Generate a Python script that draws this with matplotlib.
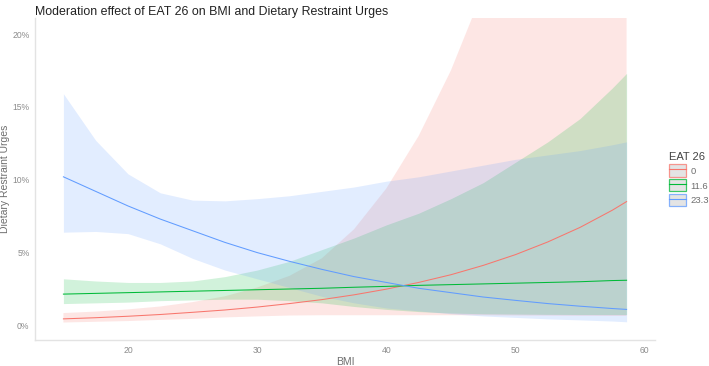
import matplotlib
matplotlib.use("Agg")
import matplotlib.pyplot as plt
from matplotlib.patches import Patch
from matplotlib.lines import Line2D
from matplotlib.ticker import FuncFormatter

plt.rcParams['font.family'] = ['Liberation Sans', 'DejaVu Sans']

# --- data (values in %) ---
bmi = [15, 17.5, 20, 22.5, 25, 27.5, 30, 32.5, 35, 37.5, 40, 42.5, 45, 47.5, 50, 52.5, 55, 57.5, 58.6]

# EAT 26 = 0
red_fit = [0.45, 0.53, 0.63, 0.75, 0.90, 1.06, 1.26, 1.50, 1.77, 2.10, 2.49, 2.95, 3.48, 4.12, 4.86, 5.73, 6.73, 7.91, 8.5]
red_lo = [0.2, 0.25, 0.3, 0.38, 0.45, 0.55, 0.62, 0.68, 0.7, 0.7, 0.7, 0.7, 0.7, 0.7, 0.68, 0.67, 0.66, 0.65, 0.65]
red_hi = [0.85, 0.95, 1.1, 1.3, 1.6, 2.0, 2.6, 3.4, 4.6, 6.6, 9.4, 13.0, 17.5, 23.0, 29.0, 35.0, 41.0, 47.0, 50.0]

# EAT 26 = 11.6
green_fit = [2.15, 2.2, 2.25, 2.3, 2.35, 2.4, 2.45, 2.5, 2.55, 2.62, 2.68, 2.75, 2.8, 2.85, 2.9, 2.95, 3.0, 3.08, 3.1]
green_lo = [1.5, 1.55, 1.6, 1.7, 1.75, 1.8, 1.8, 1.7, 1.55, 1.3, 1.1, 0.95, 0.85, 0.8, 0.78, 0.76, 0.75, 0.75, 0.75]
green_hi = [3.2, 3.05, 2.95, 2.95, 3.05, 3.35, 3.8, 4.4, 5.2, 6.0, 6.9, 7.7, 8.7, 9.8, 11.2, 12.6, 14.2, 16.3, 17.3]

# EAT 26 = 23.3
blue_fit = [10.2, 9.2, 8.2, 7.3, 6.5, 5.7, 5.0, 4.4, 3.85, 3.35, 2.95, 2.55, 2.25, 1.95, 1.72, 1.5, 1.32, 1.16, 1.1]
blue_lo = [6.4, 6.45, 6.3, 5.6, 4.6, 3.8, 3.2, 2.6, 2.0, 1.55, 1.2, 1.0, 0.8, 0.65, 0.55, 0.45, 0.38, 0.3, 0.25]
blue_hi = [15.9, 12.7, 10.4, 9.1, 8.6, 8.55, 8.7, 8.9, 9.2, 9.5, 9.9, 10.2, 10.6, 11.0, 11.4, 11.7, 12.0, 12.4, 12.6]

groups = ["0", "11.6", "23.3"]
colors = ["#F8766D", "#00BA38", "#619CFF"]
fits = [red_fit, green_fit, blue_fit]
lows = [red_lo, green_lo, blue_lo]
highs = [red_hi, green_hi, blue_hi]

x_ticks = [20, 30, 40, 50, 60]
y_ticks = [0, 5, 10, 15, 20]

fig = plt.figure(figsize=(7.09, 3.66), dpi=100)
ax = fig.add_axes([35 / 709, 1 - 340 / 366, 620 / 709, 322 / 366])

for lo, hi, c in zip(lows, highs, colors):
    ax.fill_between(bmi, lo, hi, color=c, alpha=0.18, lw=0)
for fit, c in zip(fits, colors):
    ax.plot(bmi, fit, color=c, lw=0.75)

ax.set_xlim(12.8, 60.8)
ax.set_ylim(-1.0, 21.1)
ax.set_xticks(x_ticks)
ax.set_yticks(y_ticks)
ax.yaxis.set_major_formatter(FuncFormatter(lambda v, p: f"{v:.0f}%"))
ax.tick_params(length=0, labelsize=6.2, labelcolor="#8c8c8c", pad=4)

for s in ["top", "right"]:
    ax.spines[s].set_visible(False)
for s in ["left", "bottom"]:
    ax.spines[s].set_color("#e3e3e3")
    ax.spines[s].set_linewidth(1.0)

ax.set_xlabel("BMI", fontsize=7.5, color="#6e6e6e")
ax.set_ylabel("Dietary Restraint Urges", fontsize=7.5, color="#6e6e6e")
ax.xaxis.set_label_coords(0.5, -0.052)
ax.yaxis.set_label_coords(-0.04, 0.5)
ax.set_title("Moderation effect of EAT 26 on BMI and Dietary Restraint Urges",
             fontsize=8.9, color="#222222", loc="left", pad=1.5)

handles = [(Patch(facecolor="#dcdcdc", edgecolor=c, alpha=0.75, lw=0.9),
            Line2D([], [], color=c, lw=0.8)) for c in colors]
leg = ax.legend(handles, groups, title="EAT 26", loc="center left",
                bbox_to_anchor=(1.012, 0.5), frameon=False, fontsize=6.8,
                title_fontsize=8, handlelength=1.8, handleheight=1.6,
                handletextpad=0.45, labelspacing=0.3, borderaxespad=0.3)
leg._legend_box.align = "left"
leg.get_title().set_color("#444444")
for t in leg.get_texts():
    t.set_color("#6e6e6e")

fig.savefig("out.png", dpi=100)
